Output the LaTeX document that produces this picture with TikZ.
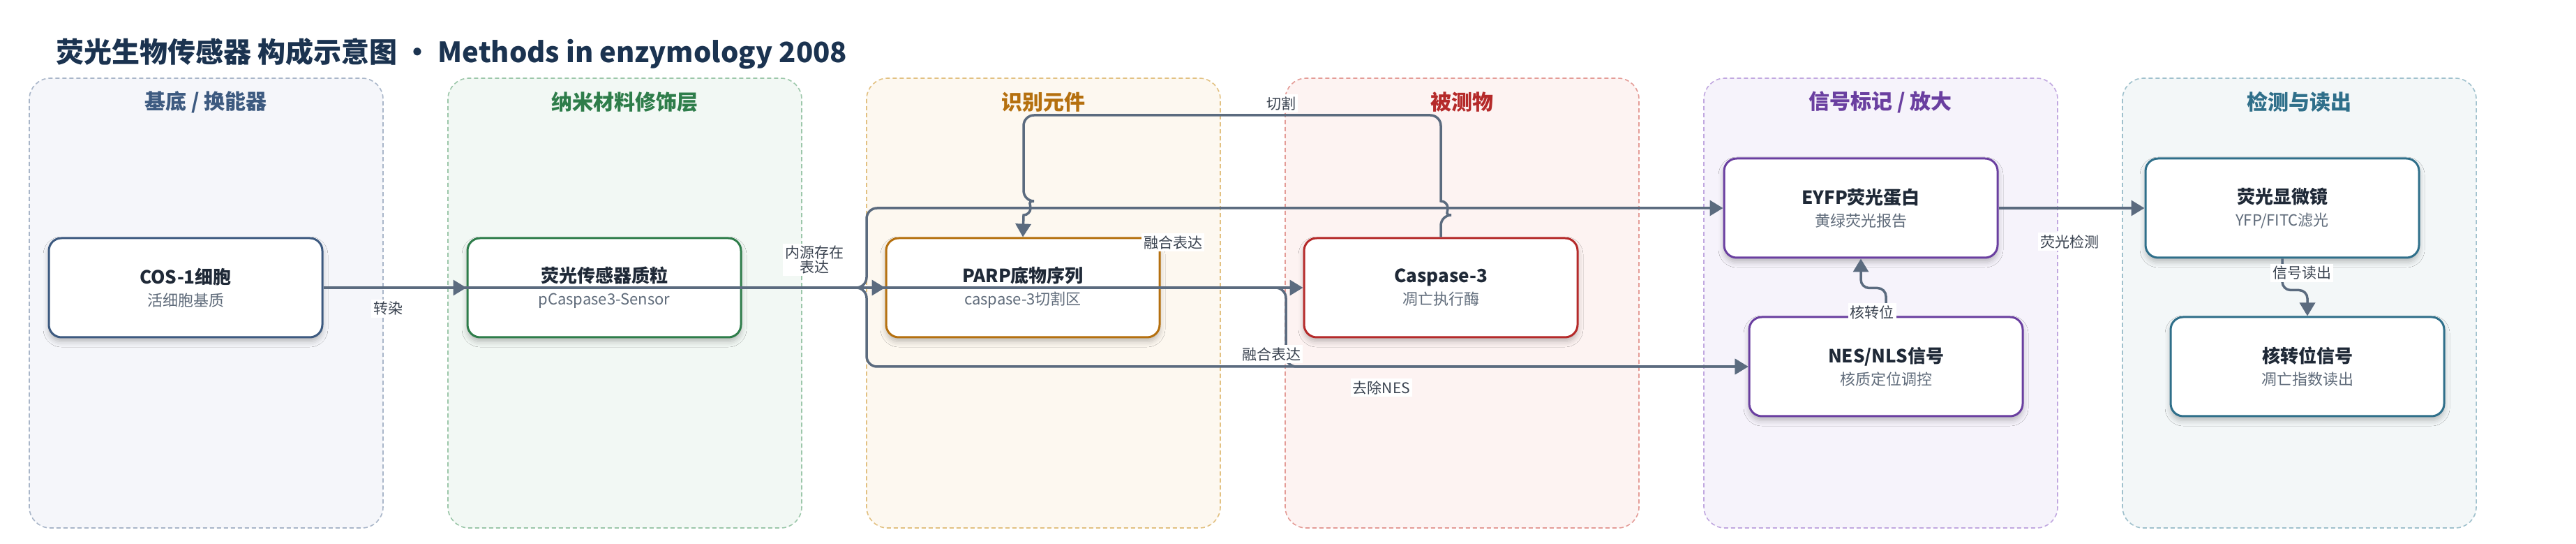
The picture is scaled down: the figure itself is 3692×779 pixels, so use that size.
\documentclass[tikz,border=0pt]{standalone}
\usepackage{fontspec}
\setmainfont{Noto Sans CJK SC}
\usetikzlibrary{arrows.meta,shadows.blur}

\definecolor{edgegray}{HTML}{5B6B7F}
\definecolor{titlenavy}{HTML}{1B3350}
\definecolor{textdark}{HTML}{1F2937}
\definecolor{subgray}{HTML}{5F6B7A}
\definecolor{labelgray}{HTML}{3A4350}
% lane colours: D = dark, B = border, F = fill
\definecolor{baseD}{HTML}{3D5A80}   \definecolor{baseB}{HTML}{A9B6C9}   \definecolor{baseF}{HTML}{F5F6FA}
\definecolor{nanoD}{HTML}{2E7D4A}   \definecolor{nanoB}{HTML}{9CC7AA}   \definecolor{nanoF}{HTML}{F2F8F4}
\definecolor{recogD}{HTML}{B5700F}  \definecolor{recogB}{HTML}{E2C182}  \definecolor{recogF}{HTML}{FDF8F0}
\definecolor{targetD}{HTML}{B52A2A} \definecolor{targetB}{HTML}{E49C97} \definecolor{targetF}{HTML}{FDF3F2}
\definecolor{signalD}{HTML}{6A3FA0} \definecolor{signalB}{HTML}{C1A8E0} \definecolor{signalF}{HTML}{F6F3FB}
\definecolor{readD}{HTML}{2F6F8A}   \definecolor{readB}{HTML}{A0C1CD}   \definecolor{readF}{HTML}{F3F7F8}

\newcommand{\boxtext}[2]{{\fontsize{13}{15}\selectfont\bfseries\color{textdark}#1}\\[4pt]{\fontsize{11}{13}\selectfont\color{subgray}#2}}

\begin{document}
\begin{tikzpicture}[x=0.5pt, y=-0.5pt,
  lane/.style={dash pattern=on 3pt off 2pt, line width=0.8pt, rounded corners=15pt},
  head/.style={font=\fontsize{15}{18}\selectfont\bfseries},
  box/.style={draw, fill=white, rounded corners=9pt, line width=1.5pt,
    minimum width=196pt, minimum height=71pt, align=center,
    blur shadow={shadow xshift=0pt, shadow yshift=-3pt, shadow blur radius=4pt, shadow opacity=25}},
  flow/.style={draw=edgegray, line width=1.75pt, rounded corners=7.5pt,
    -{Triangle[length=9.5pt,width=11pt]}},
  tag/.style={fill=white, inner sep=1.5pt, text=labelgray, font=\fontsize{10.5}{9}\selectfont, align=center}]

  \useasboundingbox (0,0) rectangle (3692,779);

  % --- title ---
  \node[anchor=west, text=titlenavy, font=\fontsize{20}{24}\selectfont\bfseries] (title) at (73,77)
    {荧光生物传感器 构成示意图 · Methods in enzymology 2008};

  % --- lanes ---
  \draw[lane, draw=baseB, fill=baseF] (42,112) rectangle (549,756);
  \draw[lane, draw=nanoB, fill=nanoF] (642,112) rectangle (1149,756);
  \draw[lane, draw=recogB, fill=recogF] (1242,112) rectangle (1749,756);
  \draw[lane, draw=targetB, fill=targetF] (1842,112) rectangle (2349,756);
  \draw[lane, draw=signalB, fill=signalF] (2442,112) rectangle (2949,756);
  \draw[lane, draw=readB, fill=readF] (3042,112) rectangle (3549,756);

  \node[head, text=baseD] (hbase) at (295,146) {基底 / 换能器};
  \node[head, text=nanoD] (hnano) at (895,146) {纳米材料修饰层};
  \node[head, text=recogD] (hrecog) at (1495,146) {识别元件};
  \node[head, text=targetD] (htarget) at (2095,146) {被测物};
  \node[head, text=signalD] (hsignal) at (2695,146) {信号标记 / 放大};
  \node[head, text=readD] (hread) at (3295,146) {检测与读出};

  % --- boxes ---
  \node[box, draw=baseD] (cos) at (266,412) {\boxtext{COS-1细胞}{活细胞基质}};
  \node[box, draw=nanoD] (plasmid) at (866,412) {\boxtext{荧光传感器质粒}{pCaspase3-Sensor}};
  \node[box, draw=recogD] (parp) at (1466,412) {\boxtext{PARP底物序列}{caspase-3切割区}};
  \node[box, draw=targetD] (casp) at (2065,412) {\boxtext{Caspase-3}{凋亡执行酶}};
  \node[box, draw=signalD] (eyfp) at (2667,298) {\boxtext{EYFP荧光蛋白}{黄绿荧光报告}};
  \node[box, draw=signalD] (nes) at (2703,525) {\boxtext{NES/NLS信号}{核质定位调控}};
  \node[box, draw=readD] (micro) at (3271,298) {\boxtext{荧光显微镜}{YFP/FITC滤光}};
  \node[box, draw=readD] (nucsig) at (3307,525) {\boxtext{核转位信号}{凋亡指数读出}};

  % --- connectors ---
  \draw[flow] (cos.east) -- (plasmid.west);
  \draw[flow] (cos.east) -- (casp.west);
  \draw[flow] (plasmid.east) -- (parp.west);
  \draw[flow] (plasmid.east) -- (1242,412) -- (1242,298) -- (eyfp.west);
  \draw[flow] (plasmid.east) -- (1242,412) -- (1242,525) -- (nes.west);
  \draw[flow] (parp.east) -- (1843,412) -- (1843,525) -- (nes.west);
  \draw[flow] (casp.north) -- (2065,308) [sharp corners] arc[start angle=90, end angle=-90, radius=10]
    [rounded corners=7.5pt] -- (2065,165) -- (1467,165) -- (1467,288) [sharp corners]
    arc[start angle=-90, end angle=90, radius=10] -- (parp.north);
  \draw[flow, rounded corners=6pt] (nes.north) -- ++(0,-40) -| (eyfp.south);
  \draw[flow] (eyfp.east) -- (micro.west);
  \draw[flow, rounded corners=6pt] (micro.south) -- ++(0,45) -| (nucsig.north);

  % --- connector labels ---
  \node[tag] (lbltransfect) at (556,442) {转染};
  \node[tag] (lblendo) at (1167,372) {内源存在\\表达};
  \node[tag] (lblfuse1) at (1681,347) {融合表达};
  \node[tag] (lblfuse2) at (1822,507) {融合表达};
  \node[tag] (lblcut) at (1836,148) {切割};
  \node[tag] (lblnes) at (1980,555) {去除NES};
  \node[tag] (lblshift) at (2683,447) {核转位};
  \node[tag] (lbldetect) at (2966,346) {荧光检测};
  \node[tag] (lblread) at (3299,391) {信号读出};

\end{tikzpicture}
\end{document}
